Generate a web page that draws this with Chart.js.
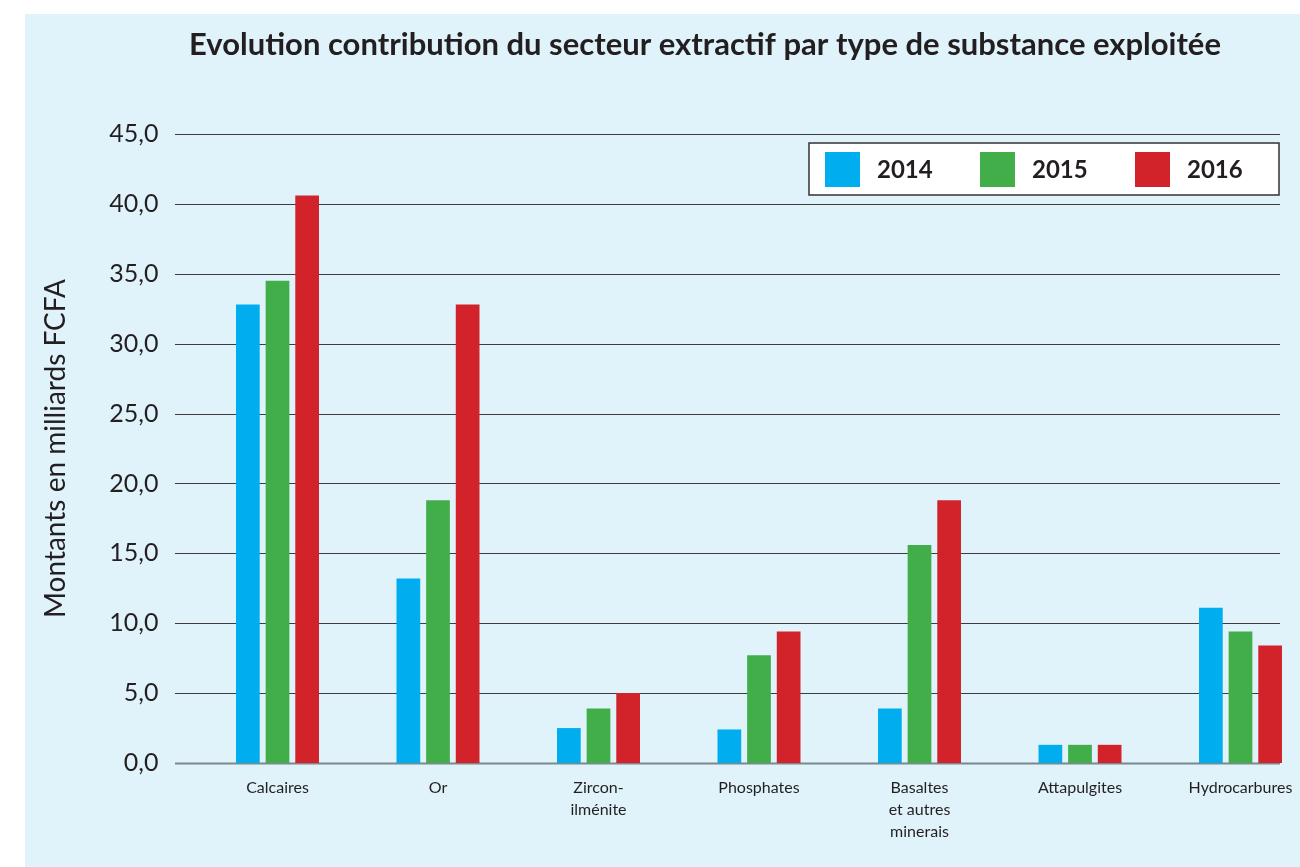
<!DOCTYPE html>
<html>
<head>
<meta charset="utf-8">
<script src="https://cdn.jsdelivr.net/npm/chart.js@4"></script>
<style>
  html, body { margin: 0; padding: 0; background: #fff; overflow: hidden; }
  #panel { position: absolute; left: 25px; top: 14px; width: 1275px; height: 853px; background: #e0f2fa; }
  canvas { display: block; }
</style>
</head>
<body>
<div id="panel"><canvas id="chart" width="1275" height="853"></canvas></div>
<script>
// Data
const categories = ['Calcaires', 'Or', ['Zircon-', 'ilménite'], 'Phosphates', ['Basaltes', 'et autres', 'minerais'], 'Attapulgites', 'Hydrocarbures']
const seriesNames = ['2014', '2015', '2016']
const values2014 = [32.8, 13.2, 2.5, 2.4, 3.9, 1.3, 11.1]
const values2015 = [34.5, 18.8, 3.9, 7.7, 15.6, 1.3, 9.4]
const values2016 = [40.6, 32.8, 5.0, 9.4, 18.8, 1.3, 8.4]
const colors = ['#00aeef', '#41ae4a', '#d2232a']

const titleText = 'Evolution contribution du secteur extractif par type de substance exploitée'
const yTitle = 'Montants en milliards FCFA'
const textColor = '#231f20'

// grid lines wider than the plot area, like the original
const gridPlugin = {
  id: 'grid',
  beforeDatasetsDraw(chart) {
    const ctx = chart.ctx
    const y = chart.scales.y
    ctx.save()
    y.ticks.forEach(t => {
      const py = Math.round(y.getPixelForValue(t.value)) + 0.5
      ctx.beginPath()
      ctx.strokeStyle = t.value === 0 ? '#7d878d' : '#3d3d3d'
      ctx.lineWidth = t.value === 0 ? 2 : 1.2
      ctx.moveTo(150, py)
      ctx.lineTo(1255, py)
      ctx.stroke()
    })
    ctx.restore()
  }
}

// title + boxed legend
const decoPlugin = {
  id: 'deco',
  afterDraw(chart) {
    const ctx = chart.ctx
    ctx.save()
    ctx.fillStyle = textColor
    ctx.font = 'bold 31px Lato'
    ctx.textAlign = 'center'
    ctx.textBaseline = 'alphabetic'
    ctx.fillText(titleText, 680, 41)

    const bx = 784, by = 129, bw = 470, bh = 52
    ctx.fillStyle = '#fff'
    ctx.fillRect(bx, by, bw, bh)
    ctx.strokeStyle = '#333'
    ctx.lineWidth = 1.5
    ctx.strokeRect(bx, by, bw, bh)
    ctx.font = 'bold 24px Lato'
    ctx.textAlign = 'left'
    ctx.textBaseline = 'middle'
    chart.data.datasets.forEach((ds, i) => {
      const x = bx + 16 + i * 155
      ctx.fillStyle = ds.backgroundColor
      ctx.fillRect(x, by + 9, 35, 35)
      ctx.fillStyle = textColor
      ctx.fillText(ds.label, x + 52, by + bh / 2 + 1)
    })
    ctx.restore()
  }
}

const ctx = document.getElementById('chart')
const datasetValues = [values2014, values2015, values2016]

new Chart(ctx, {
  type: 'bar',
  data: {
    labels: categories,
    datasets: seriesNames.map((name, i) => ({
      label: name,
      data: datasetValues[i],
      backgroundColor: colors[i],
      borderWidth: 0,
      clip: false
    }))
  },
  options: {
    responsive: false,
    animation: false,
    devicePixelRatio: 1,
    categoryPercentage: 0.554,
    barPercentage: 0.8,
    layout: { padding: { top: 120, right: 59.5, bottom: 14, left: 0 } },
    plugins: {
      legend: { display: false },
      title: { display: false },
      tooltip: { enabled: false }
    },
    scales: {
      x: {
        offset: false,
        grid: { display: false, drawTicks: false },
        border: { display: false },
        ticks: {
          autoSkip: false,
          maxRotation: 0,
          padding: 14,
          color: textColor,
          font: { family: 'Lato', size: 16, lineHeight: 1.38 }
        },
        afterFit(s) {
          s.height = 90
          s.paddingLeft = 0
          s.paddingRight = 0
        }
      },
      y: {
        min: 0,
        max: 45,
        grid: { display: false, drawTicks: false },
        border: { display: false },
        ticks: {
          stepSize: 5,
          padding: 119,
          color: textColor,
          font: { family: 'Lato', size: 25 },
          callback: v => v.toFixed(1).replace('.', ',')
        },
        title: {
          display: true,
          text: yTitle,
          color: textColor,
          font: { family: 'Lato', size: 28 },
          padding: { top: 14, bottom: 0 }
        },
        afterFit(s) {
          s.width = 252.5
          s.paddingTop = 0
          s.paddingBottom = 0
        }
      }
    }
  },
  plugins: [gridPlugin, decoPlugin]
})
</script>
</body>
</html>
